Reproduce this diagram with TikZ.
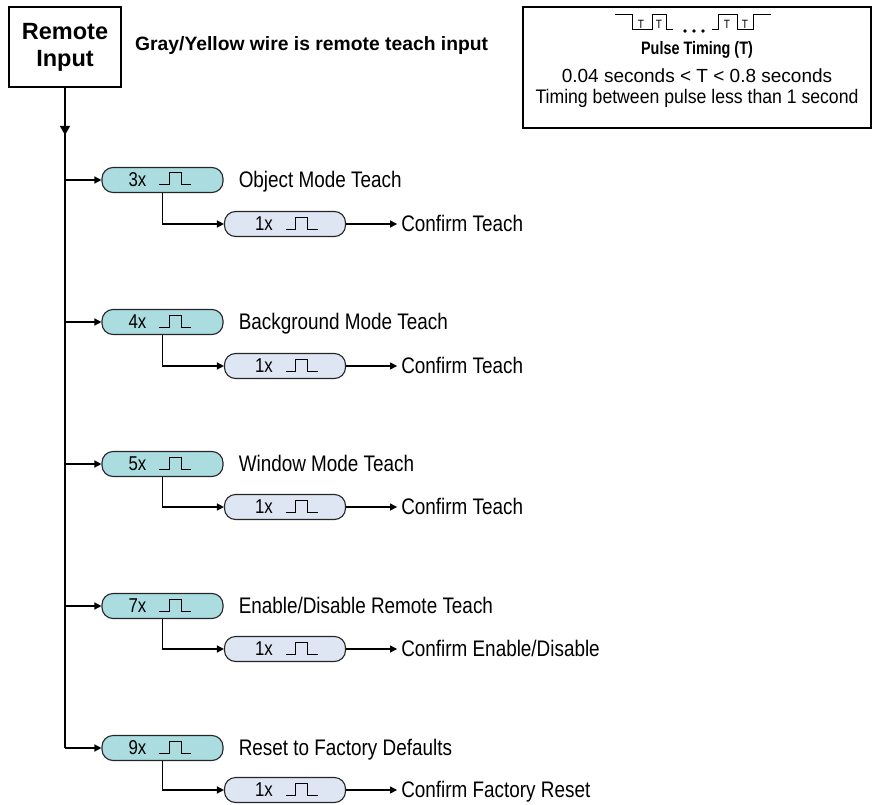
\documentclass[tikz,border=0pt]{standalone}
\usepackage{fontspec}
\setmainfont{Liberation Sans}
\newfontfamily\narrowsans{Liberation Sans}[FakeStretch=0.9]
\newfontfamily\condsans{Liberation Sans}[FakeStretch=0.84]
\newfontfamily\condbold{Liberation Sans Bold}[FakeStretch=0.8]
\usetikzlibrary{arrows.meta,calc}
\definecolor{pillteal}{RGB}{170,220,224}
\definecolor{pillblue}{RGB}{222,230,244}
\tikzset{
  conn/.style={line width=1.3pt, draw=black},
  arr/.style={-{Triangle[length=7pt,width=7pt]}},
  pillbase/.style={draw=black!85, line width=1.1pt, minimum width=121pt, minimum height=25pt, rounded corners=11pt, inner sep=0pt},
  pillA/.style={pillbase, fill=pillteal},
  pillB/.style={pillbase, fill=pillblue},
  cnt/.style={inner sep=0pt, font=\condsans\fontsize{20}{22}\selectfont},
  pulse/.style={line width=1pt, draw=black},
  lbl/.style={anchor=base west, inner sep=0pt, font=\condsans\fontsize{22.5}{25}\selectfont},
  infotxtA/.style={anchor=base, inner sep=0pt, font=\fontsize{19}{22}\selectfont},
  infotxtB/.style={anchor=base, inner sep=0pt, font=\narrowsans\fontsize{19.6}{22}\selectfont},
  infobold/.style={anchor=base, inner sep=0pt, font=\condbold\fontsize{18}{21}\selectfont},
  tlabel/.style={inner sep=0pt, font=\condsans\fontsize{12}{13}\selectfont},
}
\newcommand{\teachrow}[6]{%
  \node[pillA] (#1a) at (162.5,#2) {};
  \node[cnt] (#1an) at ($(#1a.west)+(36,0)$) {#4};
  \draw[pulse] ($(#1a.west)+(58,5)$) -- ++(10,0) -- ++(0,-12) -- ++(12,0) -- ++(0,12) -- ++(10,0);
  \node[lbl] (#1al) at ($(#1a.east)+(15,7.5)$) {#5};
  \node[pillB] (#1b) at (285,#3) {};
  \node[cnt] (#1bn) at ($(#1b.west)+(40,0)$) {1x};
  \draw[pulse] ($(#1b.west)+(62,5)$) -- ++(10,0) -- ++(0,-12) -- ++(12,0) -- ++(0,12) -- ++(10,0);
  \node[lbl] (#1bl) at ($(#1b.east)+(55,7.5)$) {#6};
  \draw[conn,arr] (#1a.west -| ri.south) -- (#1a.west);
  \draw[conn,arr] (#1a.south) |- (#1b.west);
  \draw[conn,arr,shorten >=4pt] (#1b.east) -- (#1b.east -| #1bl.west);
}
\begin{document}
\begin{tikzpicture}[x=1pt,y=-1pt]
\useasboundingbox (0,0) rectangle (872,805);
% Remote input box
\node[draw, line width=1.8pt, minimum width=112pt, minimum height=80pt, align=center,
      font=\bfseries\fontsize{23.5}{27}\selectfont, inner sep=0pt] (ri) at (65,47) {Remote\\Input};
\node[anchor=base west, inner sep=0pt, font=\bfseries\fontsize{19.3}{22}\selectfont] (title) at (135,51) {Gray/Yellow wire is remote teach input};
% info box
\node[draw, line width=1.3pt, minimum width=348pt, minimum height=121pt, inner sep=0pt] (info) at (697,67.5) {};
\draw[pulse] (615,15) -- (632,15) -- (632,30) -- (652,30) -- (652,15) -- (666,15) -- (666,30) -- (673,30);
\node[tlabel] (t1) at (641,24) {T};
\node[tlabel] (t2) at (659,24) {T};
\fill (685,31) circle (1.8pt) (694,31) circle (1.8pt) (703,31) circle (1.8pt);
\draw[pulse] (712,30) -- (718,30) -- (718,15) -- (737,15) -- (737,30) -- (753,30) -- (753,15) -- (771,15);
\node[tlabel] (t3) at (727,24) {T};
\node[tlabel] (t4) at (745,24) {T};
\node[infobold] (pt) at (697,55) {Pulse Timing (T)};
\node[infotxtA] (l1) at (697,83) {0.04 seconds < T < 0.8 seconds};
\node[infotxtB] (l2) at (697,104) {Timing between pulse less than 1 second};
% rows
\teachrow{r3}{180}{224}{3x}{Object Mode Teach}{Confirm Teach}
\teachrow{r4}{322}{366}{4x}{Background Mode Teach}{Confirm Teach}
\teachrow{r5}{464}{507}{5x}{Window Mode Teach}{Confirm Teach}
\teachrow{r7}{606}{649}{7x}{Enable/Disable Remote Teach}{Confirm Enable/Disable}
\teachrow{r9}{748}{790}{9x}{Reset to Factory Defaults}{Confirm Factory Reset}
% trunk
\coordinate (trunkarrow) at (65,135);
\draw[conn] (ri.south) -- (r9a.west -| ri.south);
\draw[conn,-{Triangle[length=9pt,width=10pt]}] (ri.south) -- (trunkarrow);
\end{tikzpicture}
\end{document}
